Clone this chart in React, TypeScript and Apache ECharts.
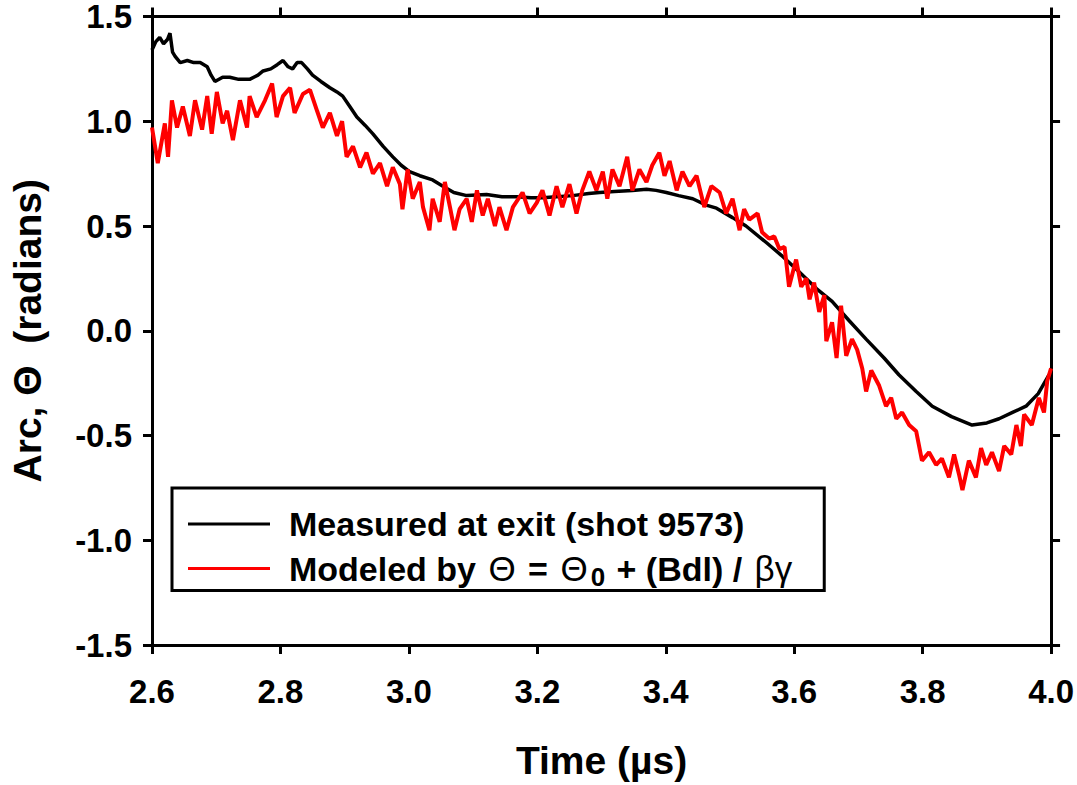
import React, { useEffect, useRef } from "react";
import * as echarts from "echarts";

const xTicks = { min: 2.6, max: 4.0, interval: 0.2 };
const yTicks = { min: -1.5, max: 1.5, interval: 0.5 };

const measuredName = "Measured at exit (shot 9573)";
const modeledName = "Modeled by Θ = Θ0 + (Bdl) / βγ";

const measured: [number, number][] = [
  [2.600, 1.34], [2.606, 1.38], [2.612, 1.40], [2.618, 1.37], [2.624, 1.39], [2.628, 1.42],
  [2.632, 1.33], [2.636, 1.31], [2.644, 1.28], [2.655, 1.29], [2.665, 1.28], [2.675, 1.28],
  [2.686, 1.26], [2.692, 1.22], [2.698, 1.19], [2.710, 1.21], [2.721, 1.21], [2.735, 1.20],
  [2.752, 1.20], [2.765, 1.22], [2.773, 1.24], [2.785, 1.25], [2.795, 1.27], [2.804, 1.29],
  [2.812, 1.26], [2.819, 1.25], [2.826, 1.28], [2.833, 1.28], [2.842, 1.25], [2.850, 1.22],
  [2.863, 1.19], [2.877, 1.16], [2.888, 1.14], [2.897, 1.12], [2.908, 1.07], [2.919, 1.02],
  [2.932, 0.98], [2.944, 0.94], [2.960, 0.88], [2.975, 0.83], [2.988, 0.79], [3.001, 0.76],
  [3.017, 0.74], [3.037, 0.72], [3.053, 0.69], [3.070, 0.66], [3.090, 0.645], [3.121, 0.65],
  [3.145, 0.64], [3.168, 0.64], [3.190, 0.635], [3.208, 0.635], [3.230, 0.64], [3.255, 0.645],
  [3.280, 0.655], [3.297, 0.66], [3.320, 0.665], [3.348, 0.67], [3.370, 0.675], [3.385, 0.67],
  [3.401, 0.66], [3.420, 0.645], [3.442, 0.63], [3.463, 0.60], [3.479, 0.585], [3.504, 0.54],
  [3.525, 0.50], [3.557, 0.42], [3.580, 0.36], [3.608, 0.28], [3.635, 0.20], [3.659, 0.14],
  [3.685, 0.05], [3.712, -0.04], [3.740, -0.13], [3.763, -0.21], [3.790, -0.29], [3.815, -0.36],
  [3.845, -0.41], [3.877, -0.45], [3.900, -0.44], [3.919, -0.42], [3.940, -0.39], [3.961, -0.36],
  [3.980, -0.30], [3.997, -0.21],
];

const modeled: [number, number][] = [
  [2.600, 0.97], [2.609, 0.80], [2.620, 0.99], [2.625, 0.83], [2.631, 1.10], [2.639, 0.97],
  [2.648, 1.07], [2.659, 0.93], [2.667, 1.10], [2.678, 0.96], [2.686, 1.12], [2.693, 0.94],
  [2.701, 1.14], [2.710, 0.99], [2.717, 1.05], [2.726, 0.91], [2.737, 1.10], [2.748, 0.97],
  [2.752, 1.12], [2.763, 1.02], [2.776, 1.10], [2.787, 1.18], [2.794, 1.02], [2.804, 1.12],
  [2.815, 1.16], [2.822, 1.04], [2.835, 1.13], [2.846, 1.15], [2.857, 1.05], [2.866, 0.97],
  [2.877, 1.04], [2.888, 0.93], [2.896, 1.00], [2.903, 0.83], [2.913, 0.88], [2.924, 0.78],
  [2.934, 0.85], [2.944, 0.75], [2.955, 0.80], [2.966, 0.69], [2.975, 0.78], [2.986, 0.70],
  [2.990, 0.58], [2.998, 0.77], [3.006, 0.63], [3.017, 0.71], [3.022, 0.59], [3.032, 0.48],
  [3.037, 0.63], [3.048, 0.52], [3.056, 0.71], [3.064, 0.59], [3.071, 0.48], [3.079, 0.58],
  [3.090, 0.63], [3.098, 0.52], [3.106, 0.67], [3.115, 0.55], [3.123, 0.63], [3.134, 0.50],
  [3.141, 0.59], [3.152, 0.48], [3.162, 0.59], [3.177, 0.66], [3.188, 0.56], [3.199, 0.61],
  [3.208, 0.67], [3.219, 0.55], [3.230, 0.69], [3.239, 0.59], [3.250, 0.70], [3.261, 0.56],
  [3.270, 0.67], [3.281, 0.76], [3.292, 0.67], [3.302, 0.76], [3.309, 0.63], [3.317, 0.77],
  [3.328, 0.69], [3.340, 0.83], [3.348, 0.67], [3.359, 0.77], [3.370, 0.71], [3.379, 0.79],
  [3.390, 0.85], [3.398, 0.74], [3.406, 0.81], [3.417, 0.67], [3.426, 0.76], [3.437, 0.69],
  [3.448, 0.74], [3.460, 0.59], [3.471, 0.69], [3.484, 0.66], [3.494, 0.56], [3.504, 0.63],
  [3.515, 0.48], [3.522, 0.58], [3.530, 0.53], [3.543, 0.56], [3.550, 0.47], [3.561, 0.44],
  [3.569, 0.45], [3.577, 0.39], [3.585, 0.40], [3.592, 0.21], [3.603, 0.34], [3.611, 0.21],
  [3.619, 0.25], [3.624, 0.15], [3.631, 0.23], [3.639, 0.09], [3.647, 0.17], [3.650, -0.05],
  [3.659, 0.04], [3.666, -0.13], [3.673, 0.12], [3.681, -0.12], [3.690, -0.04], [3.698, -0.09],
  [3.706, -0.18], [3.712, -0.29], [3.720, -0.19], [3.732, -0.26], [3.743, -0.36], [3.751, -0.32],
  [3.759, -0.42], [3.768, -0.39], [3.779, -0.45], [3.790, -0.48], [3.799, -0.62], [3.810, -0.58],
  [3.821, -0.64], [3.830, -0.61], [3.841, -0.70], [3.849, -0.59], [3.857, -0.69], [3.862, -0.76],
  [3.872, -0.62], [3.883, -0.70], [3.891, -0.56], [3.899, -0.64], [3.908, -0.58], [3.919, -0.67],
  [3.927, -0.55], [3.938, -0.59], [3.946, -0.45], [3.953, -0.55], [3.958, -0.40], [3.970, -0.45],
  [3.981, -0.32], [3.989, -0.39], [3.994, -0.24], [4.000, -0.18],
];

const FONT = "'Liberation Sans', Arial, Helvetica, sans-serif";

export default function App() {
  const ref = useRef<HTMLDivElement>(null);
  useEffect(() => {
    if (!ref.current) return;
    const chart = echarts.init(ref.current, undefined, { renderer: "svg" });
    const axisLine = { show: true, onZero: false, lineStyle: { color: "#000", width: 3 } };
    const axisTick = { show: true, inside: false, length: 9, lineStyle: { color: "#000", width: 3 } };
    const labelStyle = {
      color: "#000", fontSize: 33, fontWeight: "bold" as const, fontFamily: FONT, lineHeight: 28,
    };
    const titleStyle = { color: "#000", fontSize: 39, fontWeight: "bold" as const, fontFamily: FONT };
    chart.setOption({
      animation: false,
      backgroundColor: "#fff",
      textStyle: { fontFamily: FONT },
      grid: { left: 152, right: 25, top: 16, bottom: 137 },
      xAxis: [
        {
          type: "value", position: "bottom", ...xTicks,
          axisLine, axisTick, splitLine: { show: false },
          axisLabel: { ...labelStyle, margin: 32, formatter: (v: number) => v.toFixed(1) },
          name: "Time (µs)", nameLocation: "middle", nameGap: 96,
          nameTextStyle: titleStyle,
        },
        {
          type: "value", position: "top", ...xTicks,
          axisLine, axisTick, splitLine: { show: false }, axisLabel: { show: false },
        },
      ],
      yAxis: [
        {
          type: "value", position: "left", ...yTicks,
          axisLine, axisTick, splitLine: { show: false },
          axisLabel: { ...labelStyle, margin: 20, formatter: (v: number) => v.toFixed(1) },
          name: "Arc, Θ  (radians)", nameLocation: "middle", nameGap: 105,
          nameTextStyle: titleStyle,
        },
        {
          type: "value", position: "right", ...yTicks,
          axisLine, axisTick, splitLine: { show: false }, axisLabel: { show: false },
        },
      ],
      legend: {
        left: 172, top: 488, orient: "vertical",
        borderColor: "#000", borderWidth: 3, borderRadius: 0,
        padding: [19, 32, 1, 16], itemGap: 10,
        itemWidth: 82, itemHeight: 3, icon: "rect",
        data: [measuredName, modeledName],
        formatter: (name: string) =>
          name === modeledName
            ? "Modeled by {sym|Θ} = {sym|Θ}{sub|0} + (Bdl) / {sym|βγ}"
            : name,
        textStyle: {
          color: "#000", fontSize: 34, fontWeight: "bold", fontFamily: FONT,
          padding: [0, 0, 0, 14],
          rich: {
            sym: { fontSize: 35, fontWeight: "normal", fontFamily: FONT, color: "#000", padding: [0, 3, 0, 3] },
            sub: { fontSize: 26, fontWeight: "bold", fontFamily: FONT, color: "#000", padding: [16, 2, 0, 0] },
          },
        },
      },
      series: [
        {
          name: measuredName, type: "line", data: measured, showSymbol: false, symbol: "none",
          lineStyle: { color: "#000", width: 3.5 }, itemStyle: { color: "#000" },
          xAxisIndex: 0, yAxisIndex: 0, z: 2,
        },
        {
          name: modeledName, type: "line", data: modeled, showSymbol: false, symbol: "none",
          lineStyle: { color: "#ff0000", width: 4 }, itemStyle: { color: "#ff0000" },
          xAxisIndex: 0, yAxisIndex: 0, z: 3,
        },
      ],
    });
    return () => chart.dispose();
  }, []);
  return (
    <div
      ref={ref}
      style={{ position: "fixed", left: 0, top: 0, width: 1077, height: 785, background: "#fff" }}
    />
  );
}
